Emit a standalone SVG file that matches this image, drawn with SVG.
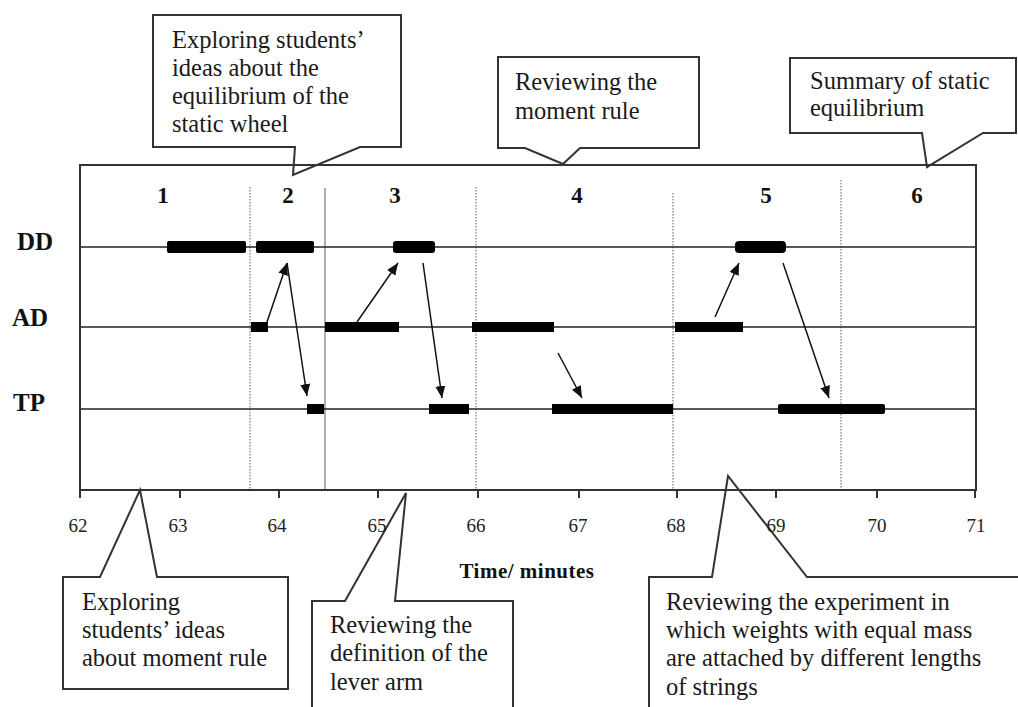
<svg xmlns="http://www.w3.org/2000/svg" width="1018" height="707" viewBox="0 0 1018 707">
<style>
.call{fill:#fff;stroke:#333;stroke-width:2;stroke-linejoin:miter}
.ct{font-family:"Liberation Serif",serif;font-size:24.5px;fill:#1a1a1a}
.row{stroke:#222;stroke-width:1.6}
.frame{fill:none;stroke:#333;stroke-width:2}
.dot{stroke:#777;stroke-width:1.2;stroke-dasharray:1.5,1.5}
.solid{stroke:#777;stroke-width:1.2}
.bar{fill:#000}
.arr{stroke:#111;stroke-width:1.5;fill:none;marker-end:url(#ah)}
.lab{font-family:"Liberation Serif",serif;font-weight:bold;font-size:25px;fill:#111}
.num{font-family:"Liberation Serif",serif;font-weight:bold;font-size:23px;fill:#111;text-anchor:middle}
.tick{font-family:"Liberation Serif",serif;font-size:19px;fill:#222;text-anchor:middle}
.ttl{font-family:"Liberation Serif",serif;font-weight:bold;font-size:21px;fill:#111;text-anchor:middle;letter-spacing:0.5px}
</style>
<defs>
<marker id="ah" markerUnits="userSpaceOnUse" markerWidth="14" markerHeight="12" refX="12" refY="5" orient="auto">
<path d="M0,0 L12,5 L0,10 Z" fill="#111"/>
</marker>
</defs>
<rect width="1018" height="707" fill="#fff"/>

<g id="callout-static-wheel">
<path class="call" d="M153,15 H401 V147 H360 L293,175 L295,147 H153 Z"/>
<text class="ct" x="172" y="48">Exploring students’</text>
<text class="ct" x="172" y="76">ideas about the</text>
<text class="ct" x="172" y="104">equilibrium of the</text>
<text class="ct" x="172" y="132">static wheel</text>
</g>
<g id="callout-moment-rule">
<path class="call" d="M498,57 H699 V148 H580 L563,164 L525,148 H498 Z"/>
<text class="ct" x="515" y="90">Reviewing the</text>
<text class="ct" x="515" y="119">moment rule</text>
</g>
<g id="callout-summary">
<path class="call" d="M790,58 H1016 V133 H983 L927,167 L922,133 H790 Z"/>
<text class="ct" x="810" y="89">Summary of static</text>
<text class="ct" x="810" y="116">equilibrium</text>
</g>
<g id="callout-explore-moment">
<path class="call" d="M63,577 H100 L140,490 L157,577 H288 V689 H63 Z"/>
<text class="ct" x="82" y="610">Exploring</text>
<text class="ct" x="82" y="638">students’ ideas</text>
<text class="ct" x="82" y="666">about moment rule</text>
</g>
<g id="callout-lever-arm">
<path class="call" d="M312,710 V601 H345 L406,493 L395,601 H513 V710"/>
<text class="ct" x="330" y="633">Reviewing the</text>
<text class="ct" x="330" y="661">definition of the</text>
<text class="ct" x="330" y="690">lever arm</text>
</g>
<g id="callout-experiment">
<path class="call" d="M649,710 V577 H712 L728,476 L807,577 H1020 V710"/>
<text class="ct" x="666" y="610">Reviewing the experiment in</text>
<text class="ct" x="666" y="638">which weights with equal mass</text>
<text class="ct" x="666" y="666">are attached by different lengths</text>
<text class="ct" x="666" y="695">of strings</text>
</g>

<g id="plot">
<line class="dot" x1="250" y1="187" x2="250" y2="490"/>
<line class="solid" x1="325" y1="188" x2="325" y2="490"/>
<line class="dot" x1="476" y1="187" x2="476" y2="490"/>
<line class="dot" x1="673" y1="193" x2="673" y2="490"/>
<line class="dot" x1="841" y1="180" x2="841" y2="490"/>
<line class="row" x1="80" y1="247" x2="976" y2="247"/>
<line class="row" x1="80" y1="327" x2="976" y2="327"/>
<line class="row" x1="80" y1="409" x2="976" y2="409"/>
<path class="frame" d="M80,490 V165 H976 V490"/>
<line x1="79" y1="490" x2="977" y2="490" stroke="#333" stroke-width="2"/>
<g stroke="#333" stroke-width="2">
<line x1="80" y1="490" x2="80" y2="498"/>
<line x1="180" y1="490" x2="180" y2="498"/>
<line x1="279" y1="490" x2="279" y2="498"/>
<line x1="378" y1="490" x2="378" y2="498"/>
<line x1="478" y1="490" x2="478" y2="498"/>
<line x1="579" y1="490" x2="579" y2="498"/>
<line x1="677" y1="490" x2="677" y2="498"/>
<line x1="776" y1="490" x2="776" y2="498"/>
<line x1="877" y1="490" x2="877" y2="498"/>
<line x1="975" y1="490" x2="975" y2="498"/>
</g>
</g>

<g id="bars">
<rect class="bar" x="167" y="241" width="79" height="12" rx="2"/>
<rect class="bar" x="256" y="241" width="58" height="12" rx="2"/>
<rect class="bar" x="393" y="241" width="42" height="12" rx="3"/>
<rect class="bar" x="735" y="241" width="51" height="12" rx="4"/>
<rect class="bar" x="251" y="322" width="17" height="10"/>
<rect class="bar" x="325" y="322" width="74" height="10"/>
<rect class="bar" x="472" y="322" width="82" height="10"/>
<rect class="bar" x="675" y="322" width="68" height="10"/>
<rect class="bar" x="307" y="404" width="17" height="10"/>
<rect class="bar" x="429" y="404" width="40" height="10"/>
<rect class="bar" x="552" y="404" width="121" height="10"/>
<rect class="bar" x="778" y="404" width="107" height="10" rx="2"/>
</g>

<g id="connectors">
<line class="arr" x1="267" y1="322" x2="287" y2="263"/>
<line class="arr" x1="287" y1="263" x2="307" y2="396"/>
<line class="arr" x1="357" y1="322" x2="398" y2="263"/>
<line class="arr" x1="423" y1="263" x2="442" y2="398"/>
<line class="arr" x1="558" y1="353" x2="582" y2="398"/>
<line class="arr" x1="715" y1="317" x2="739" y2="263"/>
<line class="arr" x1="783" y1="263" x2="829" y2="398"/>
</g>

<g id="labels">
<text class="lab" x="17" y="250">DD</text>
<text class="lab" x="12" y="326">AD</text>
<text class="lab" x="13" y="411">TP</text>
<text class="num" x="163" y="203">1</text>
<text class="num" x="288" y="203">2</text>
<text class="num" x="395" y="203">3</text>
<text class="num" x="577" y="203">4</text>
<text class="num" x="766" y="203">5</text>
<text class="num" x="917" y="203">6</text>
<text class="tick" x="78" y="532">62</text>
<text class="tick" x="178" y="532">63</text>
<text class="tick" x="277" y="532">64</text>
<text class="tick" x="377" y="532">65</text>
<text class="tick" x="476" y="532">66</text>
<text class="tick" x="578" y="532">67</text>
<text class="tick" x="676" y="532">68</text>
<text class="tick" x="776" y="532">69</text>
<text class="tick" x="877" y="532">70</text>
<text class="tick" x="976" y="532">71</text>
<text class="ttl" x="527" y="578">Time/ minutes</text>
</g>
</svg>
